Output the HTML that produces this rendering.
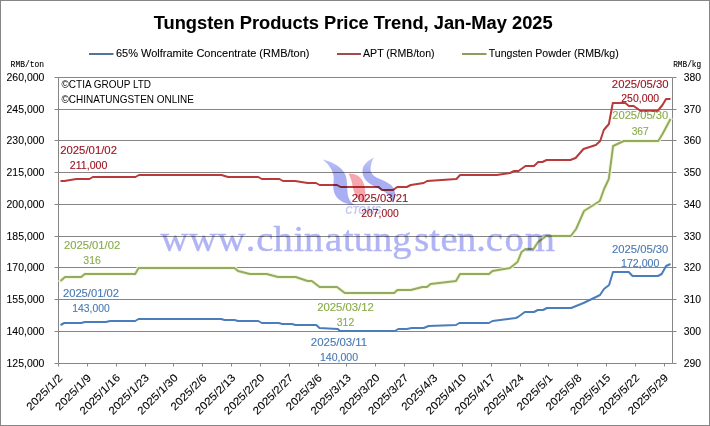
<!DOCTYPE html><html><head><meta charset="utf-8"><style>html,body{margin:0;padding:0;background:#fff;}svg{display:block;will-change:transform;}text{font-family:"Liberation Sans",sans-serif;}</style></head><body>
<svg width="710" height="426" viewBox="0 0 710 426">
<rect x="0" y="0" width="710" height="426" fill="#fff"/>
<rect x="0.5" y="0.5" width="709" height="425" fill="none" stroke="#868686" stroke-width="1"/>
<text x="153.7" y="29" font-size="18" fill="#000" text-anchor="start" font-weight="bold" style="font-family:&quot;Liberation Sans&quot;" textLength="399" lengthAdjust="spacingAndGlyphs" stroke="#000" stroke-width="0.08">Tungsten Products Price Trend, Jan-May 2025</text>
<line x1="89" y1="54" x2="113.5" y2="54" stroke="#52739e" stroke-width="2"/>
<text x="115.9" y="56.6" font-size="10.5" fill="#000000" text-anchor="start" font-weight="normal" style="font-family:&quot;Liberation Sans&quot;" textLength="193.6" lengthAdjust="spacingAndGlyphs" stroke="#000" stroke-width="0.08">65% Wolframite Concentrate (RMB/ton)</text>
<line x1="337" y1="54" x2="361" y2="54" stroke="#9e4c4c" stroke-width="2"/>
<text x="363" y="56.6" font-size="10.5" fill="#000000" text-anchor="start" font-weight="normal" style="font-family:&quot;Liberation Sans&quot;" textLength="71.6" lengthAdjust="spacingAndGlyphs" stroke="#000" stroke-width="0.08">APT (RMB/ton)</text>
<line x1="462" y1="54" x2="486.5" y2="54" stroke="#8c9e5c" stroke-width="2"/>
<text x="488.7" y="56.6" font-size="10.5" fill="#000000" text-anchor="start" font-weight="normal" style="font-family:&quot;Liberation Sans&quot;" textLength="130" lengthAdjust="spacingAndGlyphs" stroke="#000" stroke-width="0.08">Tungsten Powder (RMB/kg)</text>
<text x="10.6" y="66.9" font-size="8.8" fill="#000000" text-anchor="start" font-weight="normal" style="font-family:&quot;Liberation Mono&quot;" textLength="33.5" lengthAdjust="spacingAndGlyphs" stroke="#000" stroke-width="0.12">RMB/ton</text>
<text x="673.2" y="66.7" font-size="8.8" fill="#000000" text-anchor="start" font-weight="normal" style="font-family:&quot;Liberation Mono&quot;" textLength="28" lengthAdjust="spacingAndGlyphs" stroke="#000" stroke-width="0.12">RMB/kg</text>
<line x1="58.5" y1="77.5" x2="672.5" y2="77.5" stroke="#868686" stroke-width="1"/>
<line x1="54.5" y1="77.5" x2="58.5" y2="77.5" stroke="#868686" stroke-width="1"/>
<line x1="672.5" y1="77.5" x2="676.5" y2="77.5" stroke="#868686" stroke-width="1"/>
<text x="44.4" y="81.3" font-size="10.6" fill="#000000" text-anchor="end" font-weight="normal" style="font-family:&quot;Liberation Sans&quot;" textLength="37.9" lengthAdjust="spacingAndGlyphs" stroke="#000" stroke-width="0.08">260,000</text>
<text x="701.1" y="81.3" font-size="10.6" fill="#000000" text-anchor="end" font-weight="normal" style="font-family:&quot;Liberation Sans&quot;" textLength="17.3" lengthAdjust="spacingAndGlyphs" stroke="#000" stroke-width="0.08">380</text>
<line x1="58.5" y1="109.5" x2="672.5" y2="109.5" stroke="#868686" stroke-width="1"/>
<line x1="54.5" y1="109.5" x2="58.5" y2="109.5" stroke="#868686" stroke-width="1"/>
<line x1="672.5" y1="109.5" x2="676.5" y2="109.5" stroke="#868686" stroke-width="1"/>
<text x="44.4" y="113.3" font-size="10.6" fill="#000000" text-anchor="end" font-weight="normal" style="font-family:&quot;Liberation Sans&quot;" textLength="37.9" lengthAdjust="spacingAndGlyphs" stroke="#000" stroke-width="0.08">245,000</text>
<text x="701.1" y="113.3" font-size="10.6" fill="#000000" text-anchor="end" font-weight="normal" style="font-family:&quot;Liberation Sans&quot;" textLength="17.3" lengthAdjust="spacingAndGlyphs" stroke="#000" stroke-width="0.08">370</text>
<line x1="58.5" y1="140.5" x2="672.5" y2="140.5" stroke="#868686" stroke-width="1"/>
<line x1="54.5" y1="140.5" x2="58.5" y2="140.5" stroke="#868686" stroke-width="1"/>
<line x1="672.5" y1="140.5" x2="676.5" y2="140.5" stroke="#868686" stroke-width="1"/>
<text x="44.4" y="144.3" font-size="10.6" fill="#000000" text-anchor="end" font-weight="normal" style="font-family:&quot;Liberation Sans&quot;" textLength="37.9" lengthAdjust="spacingAndGlyphs" stroke="#000" stroke-width="0.08">230,000</text>
<text x="701.1" y="144.3" font-size="10.6" fill="#000000" text-anchor="end" font-weight="normal" style="font-family:&quot;Liberation Sans&quot;" textLength="17.3" lengthAdjust="spacingAndGlyphs" stroke="#000" stroke-width="0.08">360</text>
<line x1="58.5" y1="172.5" x2="672.5" y2="172.5" stroke="#868686" stroke-width="1"/>
<line x1="54.5" y1="172.5" x2="58.5" y2="172.5" stroke="#868686" stroke-width="1"/>
<line x1="672.5" y1="172.5" x2="676.5" y2="172.5" stroke="#868686" stroke-width="1"/>
<text x="44.4" y="176.3" font-size="10.6" fill="#000000" text-anchor="end" font-weight="normal" style="font-family:&quot;Liberation Sans&quot;" textLength="37.9" lengthAdjust="spacingAndGlyphs" stroke="#000" stroke-width="0.08">215,000</text>
<text x="701.1" y="176.3" font-size="10.6" fill="#000000" text-anchor="end" font-weight="normal" style="font-family:&quot;Liberation Sans&quot;" textLength="17.3" lengthAdjust="spacingAndGlyphs" stroke="#000" stroke-width="0.08">350</text>
<line x1="58.5" y1="204.5" x2="672.5" y2="204.5" stroke="#868686" stroke-width="1"/>
<line x1="54.5" y1="204.5" x2="58.5" y2="204.5" stroke="#868686" stroke-width="1"/>
<line x1="672.5" y1="204.5" x2="676.5" y2="204.5" stroke="#868686" stroke-width="1"/>
<text x="44.4" y="208.3" font-size="10.6" fill="#000000" text-anchor="end" font-weight="normal" style="font-family:&quot;Liberation Sans&quot;" textLength="37.9" lengthAdjust="spacingAndGlyphs" stroke="#000" stroke-width="0.08">200,000</text>
<text x="701.1" y="208.3" font-size="10.6" fill="#000000" text-anchor="end" font-weight="normal" style="font-family:&quot;Liberation Sans&quot;" textLength="17.3" lengthAdjust="spacingAndGlyphs" stroke="#000" stroke-width="0.08">340</text>
<line x1="58.5" y1="236.5" x2="672.5" y2="236.5" stroke="#868686" stroke-width="1"/>
<line x1="54.5" y1="236.5" x2="58.5" y2="236.5" stroke="#868686" stroke-width="1"/>
<line x1="672.5" y1="236.5" x2="676.5" y2="236.5" stroke="#868686" stroke-width="1"/>
<text x="44.4" y="240.3" font-size="10.6" fill="#000000" text-anchor="end" font-weight="normal" style="font-family:&quot;Liberation Sans&quot;" textLength="37.9" lengthAdjust="spacingAndGlyphs" stroke="#000" stroke-width="0.08">185,000</text>
<text x="701.1" y="240.3" font-size="10.6" fill="#000000" text-anchor="end" font-weight="normal" style="font-family:&quot;Liberation Sans&quot;" textLength="17.3" lengthAdjust="spacingAndGlyphs" stroke="#000" stroke-width="0.08">330</text>
<line x1="58.5" y1="267.5" x2="672.5" y2="267.5" stroke="#868686" stroke-width="1"/>
<line x1="54.5" y1="267.5" x2="58.5" y2="267.5" stroke="#868686" stroke-width="1"/>
<line x1="672.5" y1="267.5" x2="676.5" y2="267.5" stroke="#868686" stroke-width="1"/>
<text x="44.4" y="271.3" font-size="10.6" fill="#000000" text-anchor="end" font-weight="normal" style="font-family:&quot;Liberation Sans&quot;" textLength="37.9" lengthAdjust="spacingAndGlyphs" stroke="#000" stroke-width="0.08">170,000</text>
<text x="701.1" y="271.3" font-size="10.6" fill="#000000" text-anchor="end" font-weight="normal" style="font-family:&quot;Liberation Sans&quot;" textLength="17.3" lengthAdjust="spacingAndGlyphs" stroke="#000" stroke-width="0.08">320</text>
<line x1="58.5" y1="299.5" x2="672.5" y2="299.5" stroke="#868686" stroke-width="1"/>
<line x1="54.5" y1="299.5" x2="58.5" y2="299.5" stroke="#868686" stroke-width="1"/>
<line x1="672.5" y1="299.5" x2="676.5" y2="299.5" stroke="#868686" stroke-width="1"/>
<text x="44.4" y="303.3" font-size="10.6" fill="#000000" text-anchor="end" font-weight="normal" style="font-family:&quot;Liberation Sans&quot;" textLength="37.9" lengthAdjust="spacingAndGlyphs" stroke="#000" stroke-width="0.08">155,000</text>
<text x="701.1" y="303.3" font-size="10.6" fill="#000000" text-anchor="end" font-weight="normal" style="font-family:&quot;Liberation Sans&quot;" textLength="17.3" lengthAdjust="spacingAndGlyphs" stroke="#000" stroke-width="0.08">310</text>
<line x1="58.5" y1="331.5" x2="672.5" y2="331.5" stroke="#868686" stroke-width="1"/>
<line x1="54.5" y1="331.5" x2="58.5" y2="331.5" stroke="#868686" stroke-width="1"/>
<line x1="672.5" y1="331.5" x2="676.5" y2="331.5" stroke="#868686" stroke-width="1"/>
<text x="44.4" y="335.3" font-size="10.6" fill="#000000" text-anchor="end" font-weight="normal" style="font-family:&quot;Liberation Sans&quot;" textLength="37.9" lengthAdjust="spacingAndGlyphs" stroke="#000" stroke-width="0.08">140,000</text>
<text x="701.1" y="335.3" font-size="10.6" fill="#000000" text-anchor="end" font-weight="normal" style="font-family:&quot;Liberation Sans&quot;" textLength="17.3" lengthAdjust="spacingAndGlyphs" stroke="#000" stroke-width="0.08">300</text>
<line x1="58.5" y1="363.5" x2="672.5" y2="363.5" stroke="#868686" stroke-width="1"/>
<line x1="54.5" y1="363.5" x2="58.5" y2="363.5" stroke="#868686" stroke-width="1"/>
<line x1="672.5" y1="363.5" x2="676.5" y2="363.5" stroke="#868686" stroke-width="1"/>
<text x="44.4" y="367.3" font-size="10.6" fill="#000000" text-anchor="end" font-weight="normal" style="font-family:&quot;Liberation Sans&quot;" textLength="37.9" lengthAdjust="spacingAndGlyphs" stroke="#000" stroke-width="0.08">125,000</text>
<text x="701.1" y="367.3" font-size="10.6" fill="#000000" text-anchor="end" font-weight="normal" style="font-family:&quot;Liberation Sans&quot;" textLength="17.3" lengthAdjust="spacingAndGlyphs" stroke="#000" stroke-width="0.08">290</text>
<line x1="58.5" y1="77.5" x2="58.5" y2="363.5" stroke="#868686" stroke-width="1"/>
<line x1="672.5" y1="77.5" x2="672.5" y2="363.5" stroke="#868686" stroke-width="1"/>
<line x1="58.5" y1="363.5" x2="58.5" y2="366.5" stroke="#868686" stroke-width="1"/>
<text x="0" y="0" font-size="10.8" fill="#000000" stroke="#000" stroke-width="0.1" text-anchor="end" textLength="45.8" lengthAdjust="spacingAndGlyphs" transform="translate(63.1,378.5) rotate(-45)">2025/1/2</text>
<line x1="87.5" y1="363.5" x2="87.5" y2="366.5" stroke="#868686" stroke-width="1"/>
<text x="0" y="0" font-size="10.8" fill="#000000" stroke="#000" stroke-width="0.1" text-anchor="end" textLength="45.8" lengthAdjust="spacingAndGlyphs" transform="translate(91.9,378.5) rotate(-45)">2025/1/9</text>
<line x1="116.5" y1="363.5" x2="116.5" y2="366.5" stroke="#868686" stroke-width="1"/>
<text x="0" y="0" font-size="10.8" fill="#000000" stroke="#000" stroke-width="0.1" text-anchor="end" textLength="51.9" lengthAdjust="spacingAndGlyphs" transform="translate(120.8,378.5) rotate(-45)">2025/1/16</text>
<line x1="145.5" y1="363.5" x2="145.5" y2="366.5" stroke="#868686" stroke-width="1"/>
<text x="0" y="0" font-size="10.8" fill="#000000" stroke="#000" stroke-width="0.1" text-anchor="end" textLength="51.9" lengthAdjust="spacingAndGlyphs" transform="translate(149.6,378.5) rotate(-45)">2025/1/23</text>
<line x1="173.5" y1="363.5" x2="173.5" y2="366.5" stroke="#868686" stroke-width="1"/>
<text x="0" y="0" font-size="10.8" fill="#000000" stroke="#000" stroke-width="0.1" text-anchor="end" textLength="51.9" lengthAdjust="spacingAndGlyphs" transform="translate(178.5,378.5) rotate(-45)">2025/1/30</text>
<line x1="202.5" y1="363.5" x2="202.5" y2="366.5" stroke="#868686" stroke-width="1"/>
<text x="0" y="0" font-size="10.8" fill="#000000" stroke="#000" stroke-width="0.1" text-anchor="end" textLength="45.8" lengthAdjust="spacingAndGlyphs" transform="translate(207.3,378.5) rotate(-45)">2025/2/6</text>
<line x1="231.5" y1="363.5" x2="231.5" y2="366.5" stroke="#868686" stroke-width="1"/>
<text x="0" y="0" font-size="10.8" fill="#000000" stroke="#000" stroke-width="0.1" text-anchor="end" textLength="51.9" lengthAdjust="spacingAndGlyphs" transform="translate(236.2,378.5) rotate(-45)">2025/2/13</text>
<line x1="260.5" y1="363.5" x2="260.5" y2="366.5" stroke="#868686" stroke-width="1"/>
<text x="0" y="0" font-size="10.8" fill="#000000" stroke="#000" stroke-width="0.1" text-anchor="end" textLength="51.9" lengthAdjust="spacingAndGlyphs" transform="translate(265.0,378.5) rotate(-45)">2025/2/20</text>
<line x1="289.5" y1="363.5" x2="289.5" y2="366.5" stroke="#868686" stroke-width="1"/>
<text x="0" y="0" font-size="10.8" fill="#000000" stroke="#000" stroke-width="0.1" text-anchor="end" textLength="51.9" lengthAdjust="spacingAndGlyphs" transform="translate(293.9,378.5) rotate(-45)">2025/2/27</text>
<line x1="318.5" y1="363.5" x2="318.5" y2="366.5" stroke="#868686" stroke-width="1"/>
<text x="0" y="0" font-size="10.8" fill="#000000" stroke="#000" stroke-width="0.1" text-anchor="end" textLength="45.8" lengthAdjust="spacingAndGlyphs" transform="translate(322.7,378.5) rotate(-45)">2025/3/6</text>
<line x1="346.5" y1="363.5" x2="346.5" y2="366.5" stroke="#868686" stroke-width="1"/>
<text x="0" y="0" font-size="10.8" fill="#000000" stroke="#000" stroke-width="0.1" text-anchor="end" textLength="51.9" lengthAdjust="spacingAndGlyphs" transform="translate(351.6,378.5) rotate(-45)">2025/3/13</text>
<line x1="375.5" y1="363.5" x2="375.5" y2="366.5" stroke="#868686" stroke-width="1"/>
<text x="0" y="0" font-size="10.8" fill="#000000" stroke="#000" stroke-width="0.1" text-anchor="end" textLength="51.9" lengthAdjust="spacingAndGlyphs" transform="translate(380.4,378.5) rotate(-45)">2025/3/20</text>
<line x1="404.5" y1="363.5" x2="404.5" y2="366.5" stroke="#868686" stroke-width="1"/>
<text x="0" y="0" font-size="10.8" fill="#000000" stroke="#000" stroke-width="0.1" text-anchor="end" textLength="51.9" lengthAdjust="spacingAndGlyphs" transform="translate(409.2,378.5) rotate(-45)">2025/3/27</text>
<line x1="433.5" y1="363.5" x2="433.5" y2="366.5" stroke="#868686" stroke-width="1"/>
<text x="0" y="0" font-size="10.8" fill="#000000" stroke="#000" stroke-width="0.1" text-anchor="end" textLength="45.8" lengthAdjust="spacingAndGlyphs" transform="translate(438.1,378.5) rotate(-45)">2025/4/3</text>
<line x1="462.5" y1="363.5" x2="462.5" y2="366.5" stroke="#868686" stroke-width="1"/>
<text x="0" y="0" font-size="10.8" fill="#000000" stroke="#000" stroke-width="0.1" text-anchor="end" textLength="51.9" lengthAdjust="spacingAndGlyphs" transform="translate(466.9,378.5) rotate(-45)">2025/4/10</text>
<line x1="491.5" y1="363.5" x2="491.5" y2="366.5" stroke="#868686" stroke-width="1"/>
<text x="0" y="0" font-size="10.8" fill="#000000" stroke="#000" stroke-width="0.1" text-anchor="end" textLength="51.9" lengthAdjust="spacingAndGlyphs" transform="translate(495.8,378.5) rotate(-45)">2025/4/17</text>
<line x1="520.5" y1="363.5" x2="520.5" y2="366.5" stroke="#868686" stroke-width="1"/>
<text x="0" y="0" font-size="10.8" fill="#000000" stroke="#000" stroke-width="0.1" text-anchor="end" textLength="51.9" lengthAdjust="spacingAndGlyphs" transform="translate(524.6,378.5) rotate(-45)">2025/4/24</text>
<line x1="548.5" y1="363.5" x2="548.5" y2="366.5" stroke="#868686" stroke-width="1"/>
<text x="0" y="0" font-size="10.8" fill="#000000" stroke="#000" stroke-width="0.1" text-anchor="end" textLength="45.8" lengthAdjust="spacingAndGlyphs" transform="translate(553.5,378.5) rotate(-45)">2025/5/1</text>
<line x1="577.5" y1="363.5" x2="577.5" y2="366.5" stroke="#868686" stroke-width="1"/>
<text x="0" y="0" font-size="10.8" fill="#000000" stroke="#000" stroke-width="0.1" text-anchor="end" textLength="45.8" lengthAdjust="spacingAndGlyphs" transform="translate(582.3,378.5) rotate(-45)">2025/5/8</text>
<line x1="606.5" y1="363.5" x2="606.5" y2="366.5" stroke="#868686" stroke-width="1"/>
<text x="0" y="0" font-size="10.8" fill="#000000" stroke="#000" stroke-width="0.1" text-anchor="end" textLength="51.9" lengthAdjust="spacingAndGlyphs" transform="translate(611.2,378.5) rotate(-45)">2025/5/15</text>
<line x1="635.5" y1="363.5" x2="635.5" y2="366.5" stroke="#868686" stroke-width="1"/>
<text x="0" y="0" font-size="10.8" fill="#000000" stroke="#000" stroke-width="0.1" text-anchor="end" textLength="51.9" lengthAdjust="spacingAndGlyphs" transform="translate(640.0,378.5) rotate(-45)">2025/5/22</text>
<line x1="664.5" y1="363.5" x2="664.5" y2="366.5" stroke="#868686" stroke-width="1"/>
<text x="0" y="0" font-size="10.8" fill="#000000" stroke="#000" stroke-width="0.1" text-anchor="end" textLength="51.9" lengthAdjust="spacingAndGlyphs" transform="translate(668.9,378.5) rotate(-45)">2025/5/29</text>
<text x="61.5" y="87.9" font-size="10.2" fill="#000000" text-anchor="start" font-weight="normal" style="font-family:&quot;Liberation Sans&quot;" textLength="89.5" lengthAdjust="spacingAndGlyphs"  >©CTIA GROUP LTD</text>
<text x="61.5" y="103.1" font-size="10.2" fill="#000000" text-anchor="start" font-weight="normal" style="font-family:&quot;Liberation Sans&quot;" textLength="132.5" lengthAdjust="spacingAndGlyphs"  >©CHINATUNGSTEN ONLINE</text>
<polyline points="60.5,281 65.0,277 81.2,277 84.8,274 135.2,274 138.6,268 234.5,268 238.0,271 249.9,274 266.8,274 278.0,277 295.6,277 307.6,281 311.8,281 319.6,287 337.0,287 344.8,293 394.2,293 397.4,290 410.8,290 422.4,287 427.0,287 430.5,284 456.0,281 460.0,274 489.0,274 492.5,271 510.0,268 517.5,262 521.5,252 525.5,249 533.6,249 538.0,242 546.3,236 570.8,236 576.1,229 584.0,211 599.8,201 604.1,189 608.8,179 613.1,146 623.8,141 658.3,141 662.5,134 670.5,119" fill="none" stroke="#f5f9da" stroke-width="4" stroke-linejoin="round" stroke-linecap="round"/>
<polyline points="60.5,325 64.3,323 81.2,323 84.8,322 105.9,322 110.1,321 135.2,321 138.6,319 221.1,319 224.6,320 234.5,320 238.0,321 258.3,321 261.8,323 278.7,323 282.3,324 292.0,324 295.6,325 316.3,325 319.5,328 337.8,329 339.9,331 394.8,331 398.3,329 406.8,329 411.7,328 423.7,328 428.6,326 456.0,325 459.4,323 489.0,323 492.5,321 515.8,318 518.0,317 524.8,312 534.0,312 537.8,310 543.1,310 546.9,308 571.2,308 583.5,303 596.0,297 600.0,295 604.0,289 609.1,285 613.0,272 628.7,272 632.5,276 657.9,276 661.7,274 666.1,266 670.5,264" fill="none" stroke="#4a7ebb" stroke-width="2" stroke-linejoin="round" stroke-linecap="butt"/>
<polyline points="60.5,181 64.3,181 76.3,179 89.5,179 92.8,177 135.5,177 139.0,175 221.5,175 228.0,177 258.3,177 261.8,179 279.4,179 283.0,181 295.0,181 307.6,183 316.0,183 319.6,185 337.0,185 340.6,187 378.6,187 382.0,190 393.0,190 397.3,187 406.8,187 410.8,185 423.7,183 427.1,181 456.4,179 460.1,175 496.8,175 510.0,173 514.2,171 518.5,171 525.5,166 534.0,166 538.2,162 542.4,162 546.6,160 570.4,160 575.6,158 583.5,149 595.8,145 600.2,141 603.8,130 608.9,124 612.8,103 625.3,103 628.9,106 633.7,106 640.7,111 657.6,111 662.5,105 666.0,99 670.5,99" fill="none" stroke="#b83a3a" stroke-width="2" stroke-linejoin="round" stroke-linecap="butt"/>
<polyline points="60.5,281 65.0,277 81.2,277 84.8,274 135.2,274 138.6,268 234.5,268 238.0,271 249.9,274 266.8,274 278.0,277 295.6,277 307.6,281 311.8,281 319.6,287 337.0,287 344.8,293 394.2,293 397.4,290 410.8,290 422.4,287 427.0,287 430.5,284 456.0,281 460.0,274 489.0,274 492.5,271 510.0,268 517.5,262 521.5,252 525.5,249 533.6,249 538.0,242 546.3,236 570.8,236 576.1,229 584.0,211 599.8,201 604.1,189 608.8,179 613.1,146 623.8,141 658.3,141 662.5,134 670.5,119" fill="none" stroke="#92ab62" stroke-width="2" stroke-linejoin="round" stroke-linecap="butt"/>
<text x="88.6" y="153.6" font-size="10.5" fill="#9c1620" text-anchor="middle" font-weight="normal" style="font-family:&quot;Liberation Sans&quot;" textLength="56.8" lengthAdjust="spacingAndGlyphs" stroke="#9c1620" stroke-width="0.12">2025/01/02</text>
<text x="88.6" y="168.6" font-size="10.5" fill="#9c1620" text-anchor="middle" font-weight="normal" style="font-family:&quot;Liberation Sans&quot;" textLength="37.5" lengthAdjust="spacingAndGlyphs" stroke="#9c1620" stroke-width="0.12">211,000</text>
<text x="92.1" y="248.8" font-size="10.5" fill="#8aac4c" text-anchor="middle" font-weight="normal" style="font-family:&quot;Liberation Sans&quot;" textLength="56.4" lengthAdjust="spacingAndGlyphs" stroke="#8aac4c" stroke-width="0.12">2025/01/02</text>
<text x="92.1" y="263.6" font-size="10.5" fill="#8aac4c" text-anchor="middle" font-weight="normal" style="font-family:&quot;Liberation Sans&quot;" textLength="17.5" lengthAdjust="spacingAndGlyphs" stroke="#8aac4c" stroke-width="0.12">316</text>
<text x="91.0" y="296.8" font-size="10.5" fill="#4a7ab4" text-anchor="middle" font-weight="normal" style="font-family:&quot;Liberation Sans&quot;" textLength="56.2" lengthAdjust="spacingAndGlyphs" stroke="#4a7ab4" stroke-width="0.12">2025/01/02</text>
<text x="91.0" y="311.6" font-size="10.5" fill="#4a7ab4" text-anchor="middle" font-weight="normal" style="font-family:&quot;Liberation Sans&quot;" textLength="37.5" lengthAdjust="spacingAndGlyphs" stroke="#4a7ab4" stroke-width="0.12">143,000</text>
<text x="380.0" y="201.7" font-size="10.5" fill="#9c1620" text-anchor="middle" font-weight="normal" style="font-family:&quot;Liberation Sans&quot;" textLength="56.4" lengthAdjust="spacingAndGlyphs" stroke="#9c1620" stroke-width="0.12">2025/03/21</text>
<text x="380.0" y="216.7" font-size="10.5" fill="#9c1620" text-anchor="middle" font-weight="normal" style="font-family:&quot;Liberation Sans&quot;" textLength="37.4" lengthAdjust="spacingAndGlyphs" stroke="#9c1620" stroke-width="0.12">207,000</text>
<text x="345.5" y="310.9" font-size="10.5" fill="#8aac4c" text-anchor="middle" font-weight="normal" style="font-family:&quot;Liberation Sans&quot;" textLength="56.7" lengthAdjust="spacingAndGlyphs" stroke="#8aac4c" stroke-width="0.12">2025/03/12</text>
<text x="345.5" y="325.7" font-size="10.5" fill="#8aac4c" text-anchor="middle" font-weight="normal" style="font-family:&quot;Liberation Sans&quot;" textLength="17.4" lengthAdjust="spacingAndGlyphs" stroke="#8aac4c" stroke-width="0.12">312</text>
<text x="339.0" y="345.7" font-size="10.5" fill="#4a7ab4" text-anchor="middle" font-weight="normal" style="font-family:&quot;Liberation Sans&quot;" textLength="56.3" lengthAdjust="spacingAndGlyphs" stroke="#4a7ab4" stroke-width="0.12">2025/03/11</text>
<text x="339.0" y="360.5" font-size="10.5" fill="#4a7ab4" text-anchor="middle" font-weight="normal" style="font-family:&quot;Liberation Sans&quot;" textLength="38.2" lengthAdjust="spacingAndGlyphs" stroke="#4a7ab4" stroke-width="0.12">140,000</text>
<text x="640.2" y="87.6" font-size="10.5" fill="#9c1620" text-anchor="middle" font-weight="normal" style="font-family:&quot;Liberation Sans&quot;" textLength="56.7" lengthAdjust="spacingAndGlyphs" stroke="#9c1620" stroke-width="0.12">2025/05/30</text>
<text x="640.2" y="102.4" font-size="10.5" fill="#9c1620" text-anchor="middle" font-weight="normal" style="font-family:&quot;Liberation Sans&quot;" textLength="37.9" lengthAdjust="spacingAndGlyphs" stroke="#9c1620" stroke-width="0.12">250,000</text>
<text x="640.2" y="119.3" font-size="10.5" fill="#8aac4c" text-anchor="middle" font-weight="normal" style="font-family:&quot;Liberation Sans&quot;" textLength="56.0" lengthAdjust="spacingAndGlyphs" stroke="#8aac4c" stroke-width="0.12">2025/05/30</text>
<text x="640.2" y="134.6" font-size="10.5" fill="#8aac4c" text-anchor="middle" font-weight="normal" style="font-family:&quot;Liberation Sans&quot;" textLength="17.1" lengthAdjust="spacingAndGlyphs" stroke="#8aac4c" stroke-width="0.12">367</text>
<text x="640.2" y="252.8" font-size="10.5" fill="#4a7ab4" text-anchor="middle" font-weight="normal" style="font-family:&quot;Liberation Sans&quot;" textLength="56.4" lengthAdjust="spacingAndGlyphs" stroke="#4a7ab4" stroke-width="0.12">2025/05/30</text>
<text x="640.2" y="267.4" font-size="10.5" fill="#4a7ab4" text-anchor="middle" font-weight="normal" style="font-family:&quot;Liberation Sans&quot;" textLength="38.4" lengthAdjust="spacingAndGlyphs" stroke="#4a7ab4" stroke-width="0.12">172,000</text>
<defs><linearGradient id="gR" x1="0" y1="0" x2="0" y2="1"><stop offset="0" stop-color="#c4c8f7"/><stop offset="0.3" stop-color="#abb0f3"/><stop offset="1" stop-color="#a8aef2"/></linearGradient><linearGradient id="gL" x1="0" y1="0" x2="0" y2="1"><stop offset="0" stop-color="#bcc0f6"/><stop offset="0.25" stop-color="#aab0f3"/><stop offset="1" stop-color="#a8aef2"/></linearGradient></defs>
<g style="mix-blend-mode:multiply">
<path d="M322.5,159.5 C333,162 342,167 345.5,175 C348,182 346.5,191 348.5,197.5 C350,201.5 352.5,203.5 354.5,205 C346,204.5 339,201 335.5,195.5 C331.5,188.5 334.5,181 333.5,175.5 C332,168.5 328,163.5 322.5,159.5 Z" fill="url(#gL)"/>
<path d="M348.5,174 C356.5,173 362,177.5 364,184.5 C366,191.5 365.2,197 366,202.5 C360.5,201.5 356.5,198 354.5,193 C352,187 352.5,180 348.5,174 Z" fill="#f6a6ae"/>
<path d="M374,157.5 C367.5,160.5 362.5,165 362.5,171 C362.5,177.5 366,181.5 371,184.5 C377,188 384,190.5 388.5,195 C390.5,197 391.5,199.5 392,202 C394.5,199.5 396,195 394.5,190 C392.5,184.5 386,181.5 380,179 C375,177 371,174.5 370.5,169.5 C370.5,165 372,160.5 374,157.5 Z" fill="url(#gR)"/>
<text x="345.2" y="214" font-size="10.3" font-weight="bold" font-style="italic" fill="#c2c6f8" textLength="36" lengthAdjust="spacingAndGlyphs">CTOMS</text>
<text x="145.92 171.83 197.74 223.49 233.01 248.58 266.92 276.39 295.36 311.80 321.55 339.20 356.65 376.60 390.34 400.43 415.48 432.85 441.56 458.66 477.34" y="251.3" transform="scale(1.1,1)" font-size="35.0" fill="#b0b4f4" stroke="#b0b4f4" stroke-width="0.4" style="font-family:&quot;Liberation Serif&quot;">www.chinatungsten.com</text>
</g>
</svg></body></html>
